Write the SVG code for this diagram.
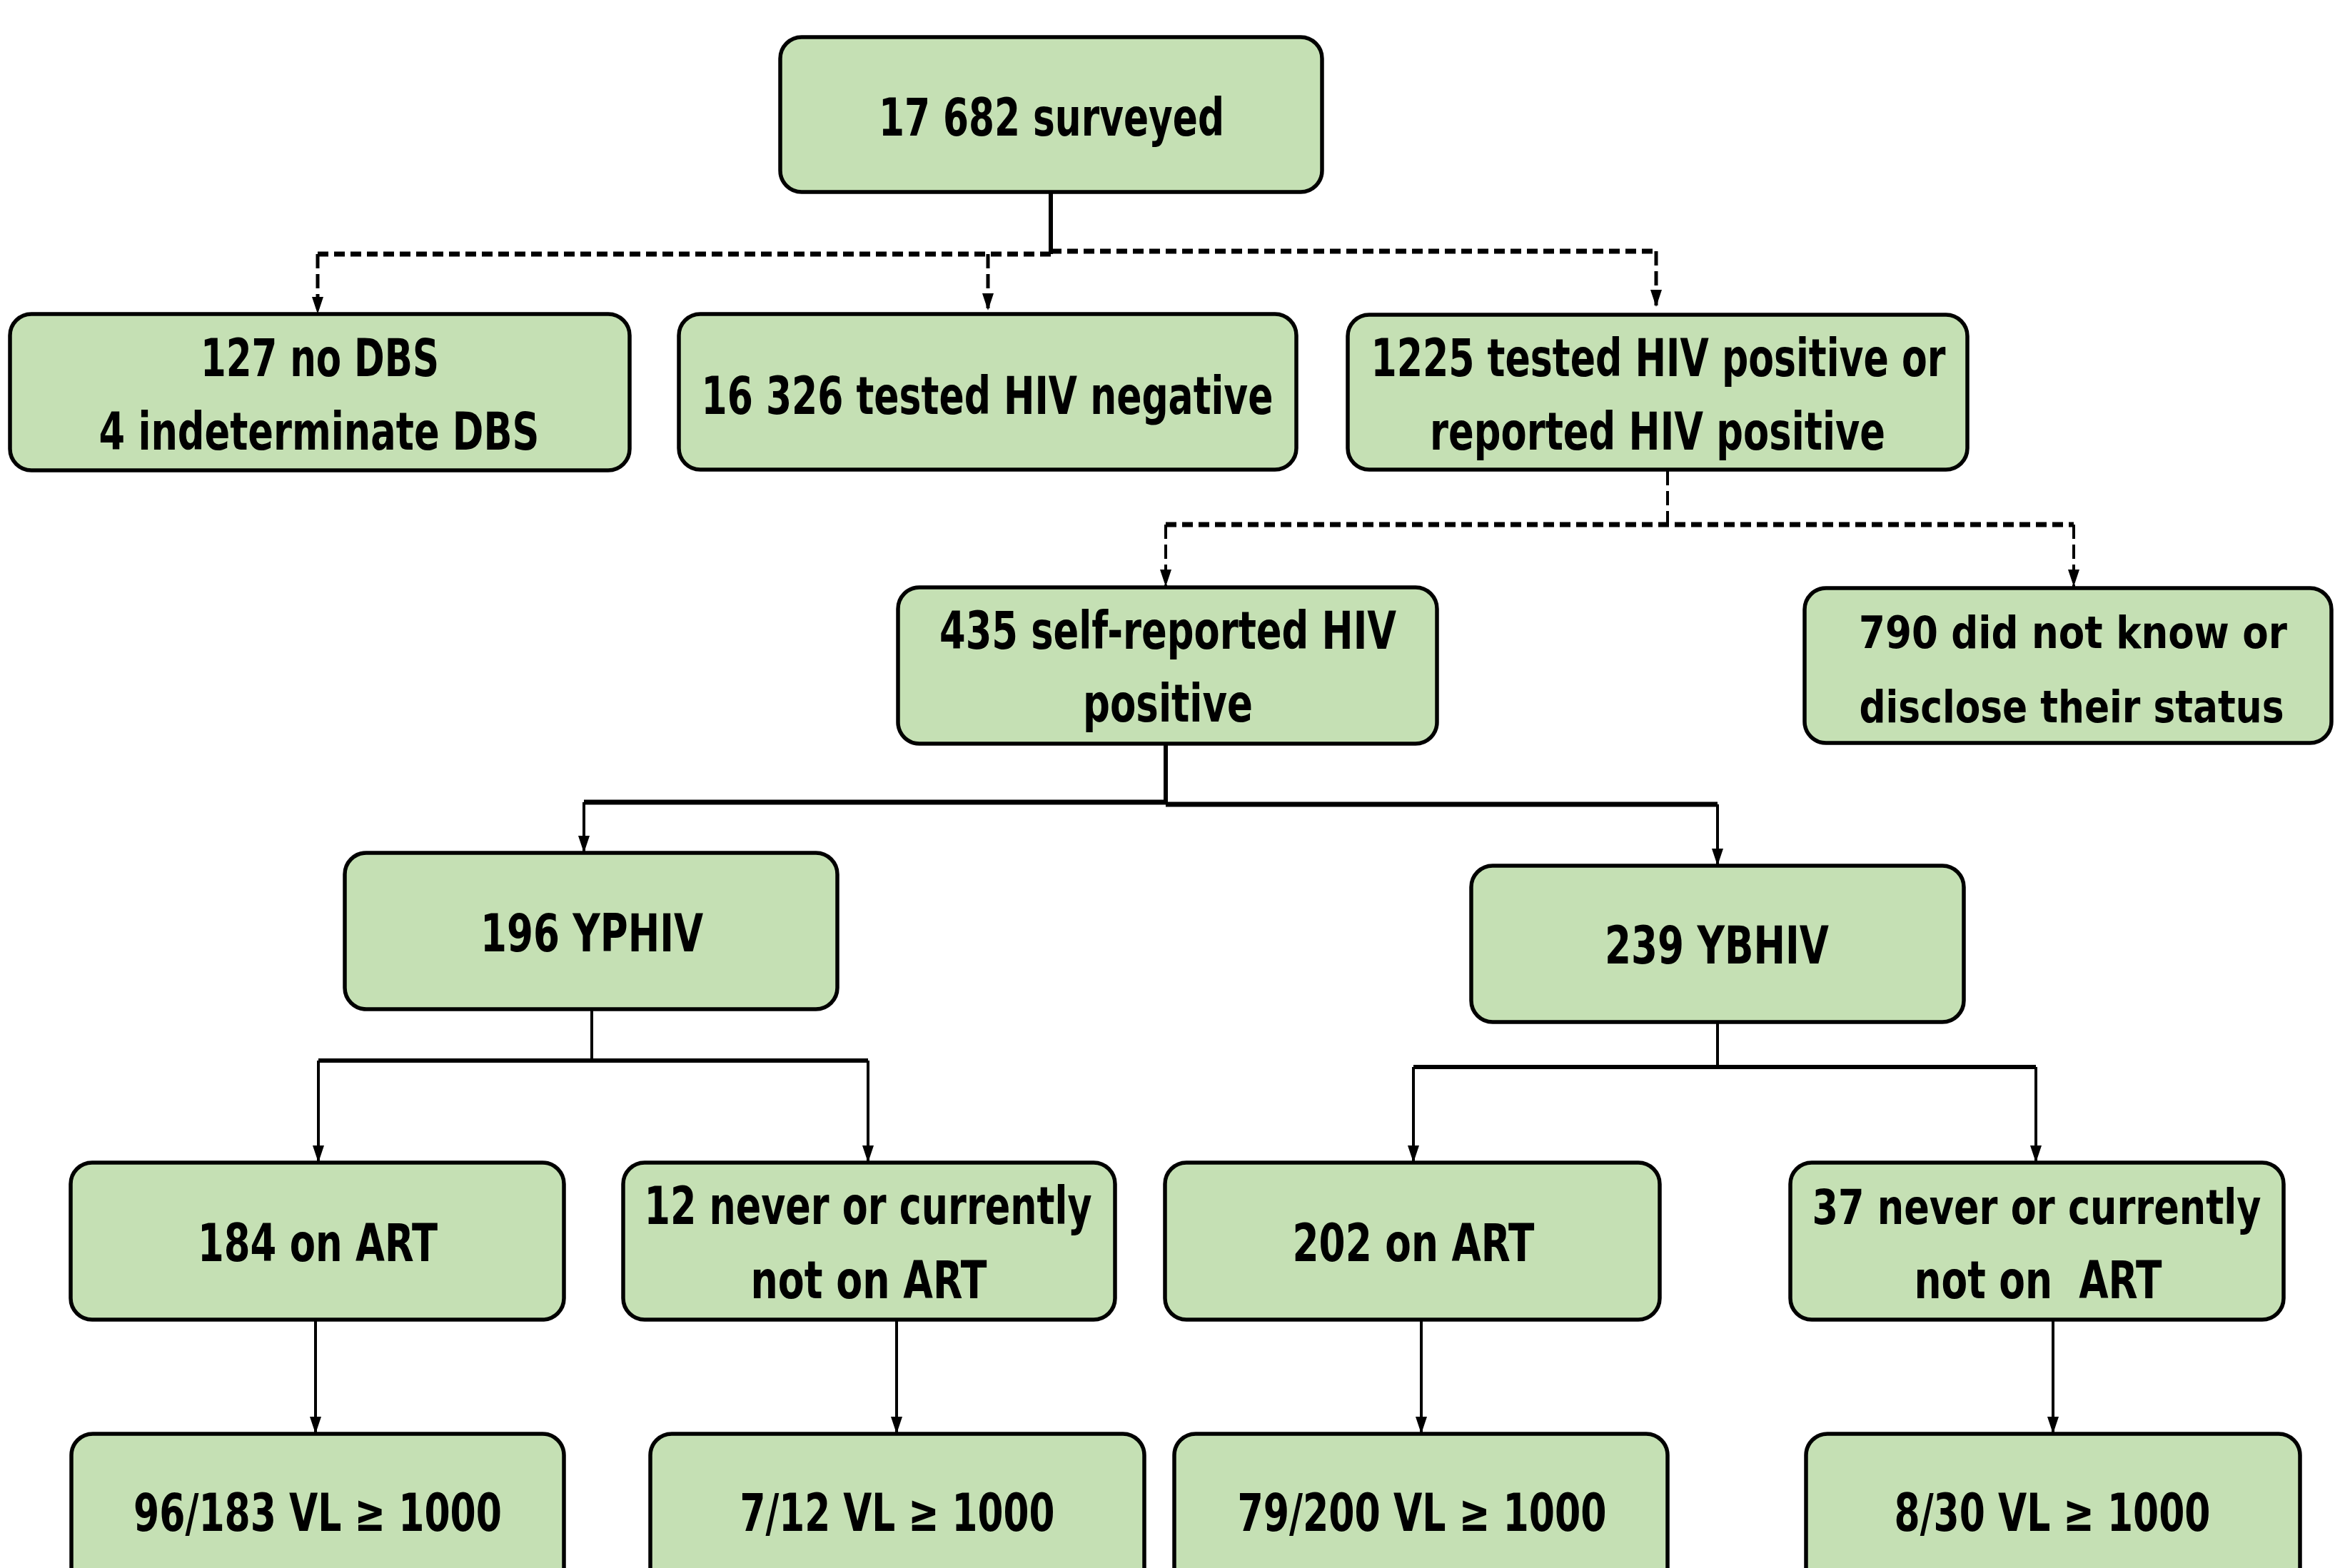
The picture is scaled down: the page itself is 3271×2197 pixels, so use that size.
<svg xmlns="http://www.w3.org/2000/svg" width="3271" height="2197" viewBox="0 0 3271 2197">
<style>
.box{fill:#C5E0B4;stroke:#000;stroke-width:5.5}
.t{font-family:"Liberation Sans Narrow","DejaVu Sans Condensed","Liberation Sans",Arial,sans-serif;font-weight:bold;font-size:73px;fill:#000;text-anchor:middle}
.s{font-size:68px}
.xs{font-size:63px}
.c{fill:none;stroke:#000;stroke-linecap:butt}
.d{stroke-dasharray:15 8}
.dv{stroke-dasharray:20 8}
</style>
<defs>
<marker id="a" markerUnits="userSpaceOnUse" markerWidth="24" markerHeight="16" viewBox="0 0 24 16" refX="24" refY="8" orient="auto">
<path d="M0 0 L24 8 L0 16 Z" fill="#000"/>
</marker>
</defs>
<rect width="3271" height="2197" fill="#fff"/>
<g id="connectors">
<path class="c" d="M1472 269 V356" stroke-width="6"/>
<path class="c d" d="M445 356 H1472" stroke-width="7"/>
<path class="c d" d="M1472 352 H2320" stroke-width="7"/>
<path class="c dv" d="M445 356 V440" stroke-width="5" marker-end="url(#a)"/>
<path class="c dv" d="M1384 356 V435" stroke-width="5" marker-end="url(#a)"/>
<path class="c dv" d="M2320 352 V430" stroke-width="5" marker-end="url(#a)"/>
<path class="c dv" d="M2336 660 V735" stroke-width="4"/>
<path class="c d" d="M1633 735 H2905" stroke-width="7"/>
<path class="c dv" d="M1633 735 V822" stroke-width="4" marker-end="url(#a)"/>
<path class="c dv" d="M2905 735 V822" stroke-width="4" marker-end="url(#a)"/>
<path class="c" d="M1633 1043 V1125" stroke-width="6"/>
<path class="c" d="M818 1124 H1633" stroke-width="7"/>
<path class="c" d="M1633 1127 H2406" stroke-width="7"/>
<path class="c" d="M818 1124 V1195" stroke-width="4" marker-end="url(#a)"/>
<path class="c" d="M2406 1127 V1213" stroke-width="4" marker-end="url(#a)"/>
<path class="c" d="M829 1415 V1486" stroke-width="4"/>
<path class="c" d="M446 1486 H1216" stroke-width="6"/>
<path class="c" d="M446 1486 V1629" stroke-width="4" marker-end="url(#a)"/>
<path class="c" d="M1216 1486 V1629" stroke-width="4" marker-end="url(#a)"/>
<path class="c" d="M2406 1433 V1495" stroke-width="4"/>
<path class="c" d="M1980 1495 H2852" stroke-width="6"/>
<path class="c" d="M1980 1495 V1629" stroke-width="4" marker-end="url(#a)"/>
<path class="c" d="M2852 1495 V1629" stroke-width="4" marker-end="url(#a)"/>
<path class="c" d="M442 1850 V2009" stroke-width="4" marker-end="url(#a)"/>
<path class="c" d="M1256 1850 V2009" stroke-width="4" marker-end="url(#a)"/>
<path class="c" d="M1991 1850 V2009" stroke-width="4" marker-end="url(#a)"/>
<path class="c" d="M2876 1850 V2009" stroke-width="4" marker-end="url(#a)"/>
</g>
<g id="n1"><rect class="box" x="1093" y="52" width="759" height="217" rx="30"/><text class="t" x="1473" y="190" textLength="484" lengthAdjust="spacingAndGlyphs">17 682 surveyed</text></g>
<g id="n2"><rect class="box" x="14" y="440" width="868" height="219" rx="30"/><text class="t" x="448" y="527" textLength="334" lengthAdjust="spacingAndGlyphs">127 no DBS</text><text class="t" x="447" y="630" textLength="617" lengthAdjust="spacingAndGlyphs">4 indeterminate DBS</text></g>
<g id="n3"><rect class="box" x="951" y="440" width="865" height="218" rx="30"/><text class="t" x="1383" y="580" textLength="801" lengthAdjust="spacingAndGlyphs">16 326 tested HIV negative</text></g>
<g id="n4"><rect class="box" x="1888" y="441" width="868" height="217" rx="30"/><text class="t" x="2323" y="527" textLength="805" lengthAdjust="spacingAndGlyphs">1225 tested HIV positive or</text><text class="t" x="2322" y="630" textLength="638" lengthAdjust="spacingAndGlyphs">reported HIV positive</text></g>
<g id="n5"><rect class="box" x="1258" y="823" width="755" height="219" rx="30"/><text class="t" x="1636" y="909" textLength="640" lengthAdjust="spacingAndGlyphs">435 self-reported HIV</text><text class="t" x="1636" y="1011" textLength="238" lengthAdjust="spacingAndGlyphs">positive</text></g>
<g id="n6"><rect class="box" x="2528" y="824" width="738" height="217" rx="30"/><text class="t xs" x="2904" y="908" textLength="600" lengthAdjust="spacingAndGlyphs">790 did not know or</text><text class="t xs" x="2902" y="1012" textLength="595" lengthAdjust="spacingAndGlyphs">disclose their status</text></g>
<g id="n7"><rect class="box" x="483" y="1195" width="690" height="219" rx="30"/><text class="t" x="829" y="1333" textLength="312" lengthAdjust="spacingAndGlyphs">196 YPHIV</text></g>
<g id="n8"><rect class="box" x="2061" y="1213" width="690" height="219" rx="30"/><text class="t" x="2405" y="1350" textLength="314" lengthAdjust="spacingAndGlyphs">239 YBHIV</text></g>
<g id="n9"><rect class="box" x="99" y="1629" width="691" height="220" rx="30"/><text class="t" x="445" y="1767" textLength="336" lengthAdjust="spacingAndGlyphs">184 on ART</text></g>
<g id="n10"><rect class="box" x="873" y="1629" width="689" height="220" rx="30"/><text class="t" x="1216" y="1715" textLength="627" lengthAdjust="spacingAndGlyphs">12 never or currently</text><text class="t" x="1217" y="1819" textLength="331" lengthAdjust="spacingAndGlyphs">not on ART</text></g>
<g id="n11"><rect class="box" x="100" y="2009" width="690" height="260" rx="30"/><text class="t" x="445" y="2145" textLength="516" lengthAdjust="spacingAndGlyphs">96/183 VL ≥ 1000</text></g>
<g id="n12"><rect class="box" x="911" y="2009" width="692" height="260" rx="30"/><text class="t" x="1257" y="2145" textLength="441" lengthAdjust="spacingAndGlyphs">7/12 VL ≥ 1000</text></g>
<g id="n13"><rect class="box" x="1632" y="1629" width="693" height="220" rx="30"/><text class="t" x="1980" y="1767" textLength="339" lengthAdjust="spacingAndGlyphs">202 on ART</text></g>
<g id="n14"><rect class="box" x="2508" y="1629" width="691" height="220" rx="30"/><text class="t s" x="2853" y="1715" textLength="629" lengthAdjust="spacingAndGlyphs">37 never or currently</text><text class="t" x="2855" y="1819" textLength="347" lengthAdjust="spacingAndGlyphs" style="white-space:pre">not on  ART</text></g>
<g id="n15"><rect class="box" x="1645" y="2009" width="691" height="260" rx="30"/><text class="t" x="1992" y="2145" textLength="517" lengthAdjust="spacingAndGlyphs">79/200 VL ≥ 1000</text></g>
<g id="n16"><rect class="box" x="2530" y="2009" width="692" height="260" rx="30"/><text class="t" x="2875" y="2145" textLength="443" lengthAdjust="spacingAndGlyphs">8/30 VL ≥ 1000</text></g>
</svg>
